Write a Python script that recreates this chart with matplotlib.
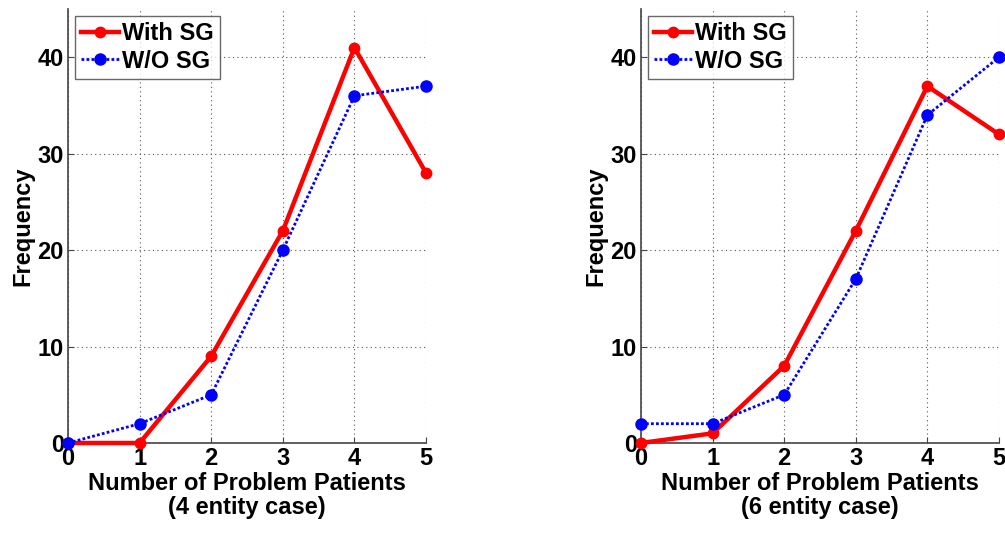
import matplotlib
matplotlib.use('Agg')
from matplotlib import pyplot as plt

# number of problem patients
patients = [0, 1, 2, 3, 4, 5]

# 4 entity case
with_sg_4 = [0, 0, 9, 22, 41, 28]
without_sg_4 = [0, 2, 5, 20, 36, 37]

# 6 entity case
with_sg_6 = [0, 1, 8, 22, 37, 32]
without_sg_6 = [2, 2, 5, 17, 34, 40]

cases = ['(4 entity case)', '(6 entity case)']
y_ticks = [0, 10, 20, 30, 40]

plt.rcParams['font.family'] = ['Liberation Sans', 'DejaVu Sans']
plt.rcParams['font.weight'] = 'bold'

fig = plt.figure(figsize=(10.05, 5.38), dpi=100)
ax_left = fig.add_axes([0.0677, 0.1766, 0.3562, 0.8067])
ax_right = fig.add_axes([0.6378, 0.1766, 0.3562, 0.8067])

for ax, with_sg, without_sg, case in [(ax_left, with_sg_4, without_sg_4, cases[0]),
                                      (ax_right, with_sg_6, without_sg_6, cases[1])]:
    ax.plot(patients, with_sg, color='#ff0000', linestyle='-', linewidth=3.2,
            marker='o', markersize=7.5, label='With SG', clip_on=False, zorder=3)
    ax.plot(patients, without_sg, color='#0000ff', linestyle=(0, (1, 0.8)), linewidth=2,
            marker='o', markersize=8, label='W/O SG', clip_on=False, zorder=3)

    ax.set_xlim(0, 5)
    ax.set_ylim(0, 45)
    ax.set_xticks(patients)
    ax.set_yticks(y_ticks)
    ax.grid(True, linestyle=(0, (1, 3)), color='#555555', linewidth=0.8)
    ax.set_axisbelow(True)

    ax.spines['top'].set_visible(False)
    ax.spines['right'].set_visible(False)
    for s in ['left', 'bottom']:
        ax.spines[s].set_color('#444444')
        ax.spines[s].set_linewidth(1.2)

    ax.tick_params(direction='in', length=4, color='#444444', labelsize=17, pad=3)
    for lab in ax.get_xticklabels() + ax.get_yticklabels():
        lab.set_fontweight('bold')

    ax.set_xlabel('Number of Problem Patients\n' + case, fontsize=17,
                  fontweight='bold', linespacing=1.1, labelpad=1)
    ax.set_ylabel('Frequency', fontsize=17, fontweight='bold', labelpad=2)

    leg = ax.legend(loc='upper left', numpoints=1, fontsize=17, frameon=True,
                    fancybox=False, handlelength=1.6, handletextpad=0.15,
                    borderpad=0.25, labelspacing=0.2, borderaxespad=0.3)
    leg.get_frame().set_edgecolor('#444444')
    leg.get_frame().set_linewidth(1.0)
    for t in leg.get_texts():
        t.set_fontweight('bold')

fig.savefig('out.png', dpi=100)
